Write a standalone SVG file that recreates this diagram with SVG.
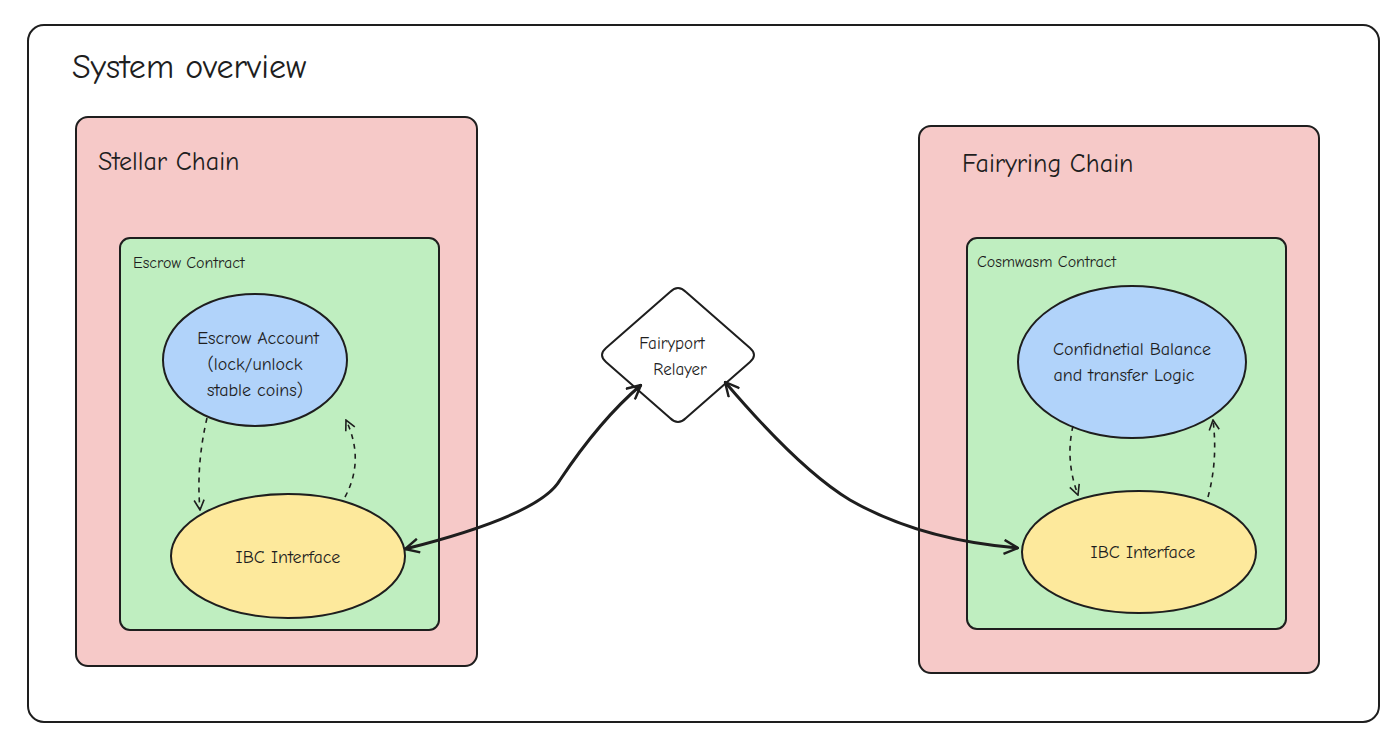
<svg xmlns="http://www.w3.org/2000/svg" width="1394" height="752" viewBox="0 0 1394 752">
<defs>
<style>
text{font-family:"Comic Neue","Liberation Sans",sans-serif;fill:#1e1e1e}
.b{stroke:#1e1e1e;stroke-width:2;fill:none}
.n{stroke:#1e1e1e;stroke-width:2}
.d{stroke:#1e1e1e;stroke-width:1.6;fill:none;stroke-dasharray:5 5}
.t{stroke:#1e1e1e;stroke-width:3;fill:none}
</style>
<marker id="a" viewBox="0 0 12 12" refX="11" refY="6" markerWidth="12" markerHeight="12" markerUnits="userSpaceOnUse" orient="auto-start-reverse"><path d="M1 1L11 6L1 11" fill="none" stroke="#1e1e1e" stroke-width="1.6"/></marker>
<marker id="A" viewBox="0 0 16 16" refX="15" refY="8" markerWidth="16" markerHeight="16" markerUnits="userSpaceOnUse" orient="auto-start-reverse"><path d="M1 1L15 8L1 15" fill="none" stroke="#1e1e1e" stroke-width="2.4"/></marker>
</defs>
<rect width="1394" height="752" fill="#fff"/>
<g id="overview"><rect x="28" y="25" width="1351" height="697" rx="16" class="b" fill="#fff"/>
<text x="72" y="78" font-size="34">System overview</text></g>
<g id="stellar"><rect x="76" y="117" width="401" height="549" rx="12" class="n" fill="#f6c9c8"/>
<text x="98" y="170" font-size="26">Stellar Chain</text></g>
<g id="escrow-contract"><rect x="120" y="238" width="319" height="392" rx="10" class="n" fill="#bfeec0"/>
<text x="133" y="268" font-size="16">Escrow Contract</text></g>
<g id="escrow-account"><ellipse cx="255" cy="360" rx="92" ry="66" class="n" fill="#b1d3fa"/>
<text font-size="18" text-anchor="middle"><tspan x="258" y="344">Escrow Account</tspan><tspan x="255" y="370">(lock/unlock</tspan><tspan x="255" y="396">stable coins)</tspan></text></g>
<g id="ibc-left"><ellipse cx="288" cy="556" rx="117" ry="62" class="n" fill="#fde99c"/>
<text x="288" y="563" font-size="18" text-anchor="middle">IBC Interface</text></g>
<g id="relayer"><path d="M670 292Q678 284 686 292L750 348Q758 355 750 362L686 418Q678 426 670 418L606 362Q598 355 606 348Z" class="n" fill="#fff"/>
<text font-size="17" text-anchor="middle"><tspan x="672" y="349">Fairyport</tspan><tspan x="680" y="375">Relayer</tspan></text></g>
<g id="fairyring"><rect x="919" y="126" width="400" height="547" rx="12" class="n" fill="#f6c9c8"/>
<text x="962" y="172" font-size="26">Fairyring Chain</text></g>
<g id="cosmwasm"><rect x="967" y="238" width="319" height="391" rx="10" class="n" fill="#bfeec0"/>
<text x="977" y="267" font-size="16">Cosmwasm Contract</text></g>
<g id="balance"><ellipse cx="1132" cy="362" rx="114" ry="76" class="n" fill="#b1d3fa"/>
<text font-size="18" text-anchor="middle"><tspan x="1132" y="355">Confidnetial Balance</tspan><tspan x="1124" y="381">and transfer Logic</tspan></text></g>
<g id="ibc-right"><ellipse cx="1139" cy="552" rx="117" ry="61" class="n" fill="#fde99c"/>
<text x="1143" y="558" font-size="18" text-anchor="middle">IBC Interface</text></g>
<g id="connectors">
<path d="M207 418Q196 465 200 510" class="d" marker-end="url(#a)"/>
<path d="M345 497Q365 460 346 420" class="d" marker-end="url(#a)"/>
<path d="M1073 426Q1065 460 1078 495" class="d" marker-end="url(#a)"/>
<path d="M1208 497Q1218 460 1213 420" class="d" marker-end="url(#a)"/>
<path d="M405 549Q540 515 560 480Q600 420 641 385" class="t" marker-start="url(#A)" marker-end="url(#A)"/>
<path d="M725 382Q800 470 850 500Q920 540 1018 548" class="t" marker-start="url(#A)" marker-end="url(#A)"/>
</g>
</svg>
